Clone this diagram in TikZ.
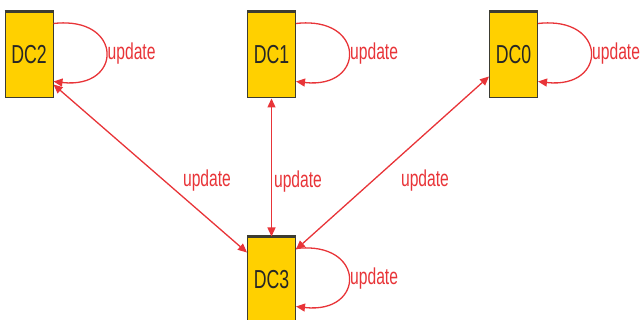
\documentclass[tikz,border=0pt]{standalone}
\usepackage{fontspec}
\setmainfont{Liberation Sans}[FakeStretch=0.68]
\usetikzlibrary{arrows.meta}
\definecolor{boxgold}{RGB}{255,208,0}
\definecolor{boxedge}{RGB}{60,60,50}
\definecolor{linkred}{RGB}{232,52,56}
\tikzset{
  dcbox/.style={draw=boxedge, line width=1pt, fill=boxgold, minimum width=48pt,
    minimum height=86pt, inner sep=0pt, font=\fontsize{26}{28}\selectfont,
    text=black!85},
  link/.style={draw=linkred, line width=1.3pt,
    {Triangle[length=9pt,width=8pt]}-{Triangle[length=9pt,width=8pt]}},
  loop/.style={draw=linkred, line width=1.3pt, -{Triangle[length=9pt,width=8pt]}},
  lbl/.style={text=linkred, font=\fontsize{23}{25}\selectfont, inner sep=0pt}
}
\begin{document}
\begin{tikzpicture}[x=1pt,y=-1pt]
  \useasboundingbox (0,0) rectangle (641,320);

  % data centre boxes
  \node[dcbox] (dc2) at (29,55) {DC2};
  \node[dcbox] (dc1) at (271.5,55) {DC1};
  \node[dcbox] (dc0) at (513.5,55) {DC0};
  \node[dcbox] (dc3) at (271.5,280) {DC3};
  \foreach \n in {dc2,dc1,dc0,dc3}
    \draw[boxedge, line width=2.5pt] (\n.north west) -- (\n.north east);

  % self updates
  \foreach \n in {dc2,dc1,dc0,dc3}{
    \draw[loop] ([yshift=-12pt]\n.north east) .. controls +(70,-8) and +(70,8) ..
      ([yshift=17pt]\n.south east);
    \node[lbl, anchor=west] (\n-self) at ([xshift=54pt,yshift=1pt]\n.east) {update};
  }

  % links to DC3
  \draw[link] ([yshift=14pt]dc2.south east) -- ([yshift=-16pt]dc3.north west);
  \draw[link] (dc1.south) -- (dc3.north);
  \draw[link] ([yshift=22pt]dc0.south west) -- ([yshift=-13pt]dc3.north east);
  \node[lbl] (l2) at (207,181) {update};
  \node[lbl] (l1) at (298,182) {update};
  \node[lbl] (l0) at (425,181) {update};
\end{tikzpicture}
\end{document}
